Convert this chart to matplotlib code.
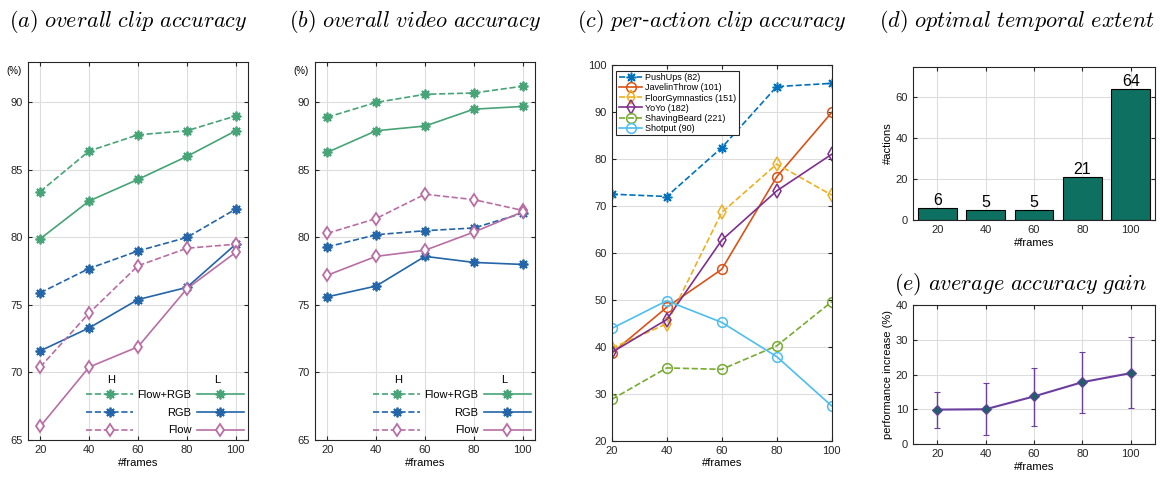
import numpy as np
import matplotlib
matplotlib.use('Agg')
import matplotlib.pyplot as plt

plt.rcParams['font.family'] = ['Liberation Sans', 'DejaVu Sans']
plt.rcParams['mathtext.fontset'] = 'cm'

frames = [20, 40, 60, 80, 100]

# (a) overall clip accuracy
clip_frgb_h = [83.4, 86.4, 87.6, 87.9, 89.0]
clip_frgb_l = [79.9, 82.7, 84.3, 86.0, 87.9]
clip_rgb_h = [75.9, 77.7, 79.0, 80.0, 82.1]
clip_rgb_l = [71.6, 73.3, 75.4, 76.3, 79.5]
clip_flow_h = [70.4, 74.4, 77.9, 79.2, 79.5]
clip_flow_l = [66.0, 70.4, 71.9, 76.2, 78.9]

# (b) overall video accuracy
vid_frgb_h = [88.9, 90.0, 90.6, 90.7, 91.2]
vid_frgb_l = [86.3, 87.9, 88.25, 89.5, 89.7]
vid_rgb_h = [79.3, 80.2, 80.5, 80.7, 81.8]
vid_rgb_l = [75.6, 76.4, 78.6, 78.15, 78.0]
vid_flow_h = [80.3, 81.4, 83.2, 82.8, 82.0]
vid_flow_l = [77.2, 78.6, 79.05, 80.4, 81.9]

# (c) per-action clip accuracy
action_names = ['PushUps (82)', 'JavelinThrow (101)', 'FloorGymnastics (151)',
                'YoYo (182)', 'ShavingBeard (221)', 'Shotput (90)']
pushups = [72.5, 72.0, 82.4, 95.4, 96.1]
javelin = [38.6, 48.4, 56.5, 76.2, 89.9]
floorgym = [39.7, 44.9, 68.6, 78.9, 72.3]
yoyo = [38.8, 45.8, 62.7, 73.2, 81.0]
shaving = [28.8, 35.5, 35.2, 40.2, 49.6]
shotput = [43.9, 49.8, 45.2, 37.9, 27.4]

# (d) optimal temporal extent
n_actions = [6, 5, 5, 21, 64]

# (e) average accuracy gain
gain_mean = [9.9, 10.0, 13.7, 17.8, 20.4]
gain_low = [4.7, 2.7, 5.3, 9.0, 10.3]
gain_high = [14.9, 17.5, 21.9, 26.4, 30.7]

GREEN = '#46a476'
BLUE = '#2365a8'
PINK = '#b86ea4'
AST = (8, 2, 0)
TICK_FS = 8


def style_axes(ax):
    ax.grid(True, color='#dddddd', linewidth=0.8)
    ax.set_axisbelow(True)
    ax.tick_params(direction='in', top=True, right=True, labelsize=TICK_FS,
                   colors='#262626', length=3)
    for s in ax.spines.values():
        s.set_color('#262626')
        s.set_linewidth(0.8)


def accuracy_panel(ax, series):
    dashed, solid = [], []
    for h, l, color, marker, mfc, ms in series:
        lh, = ax.plot(frames, h, '--', color=color, marker=marker, ms=ms, mew=1.3,
                      mfc=mfc, lw=1.2)
        ll, = ax.plot(frames, l, '-', color=color, marker=marker, ms=ms, mew=1.3,
                      mfc=mfc, lw=1.2)
        dashed.append(lh)
        solid.append(ll)
    ax.set_xlim(15, 105)
    ax.set_ylim(65, 93)
    ax.set_xticks(frames)
    ax.set_yticks([65, 70, 75, 80, 85, 90])
    ax.set_xlabel('#frames', fontsize=TICK_FS, labelpad=2)
    style_axes(ax)
    ax.text(-0.03, 0.975, '(%)', transform=ax.transAxes, ha='right', va='center',
            fontsize=7)
    leg_kw = dict(frameon=False, fontsize=TICK_FS, handlelength=4.2,
                  borderpad=0, borderaxespad=0, labelspacing=0.68)
    leg1 = ax.legend(dashed, ['', '', ''], loc='lower left',
                     bbox_to_anchor=(0.265, 0.012), handletextpad=0, **leg_kw)
    ax.add_artist(leg1)
    ax.legend(solid, ['Flow+RGB', 'RGB', 'Flow'], loc='lower right',
              markerfirst=False, bbox_to_anchor=(0.98, 0.012),
              handletextpad=0.5, **leg_kw)
    ax.text(0.38, 0.16, 'H', transform=ax.transAxes, ha='center', va='center',
            fontsize=TICK_FS)
    ax.text(0.86, 0.16, 'L', transform=ax.transAxes, ha='center', va='center',
            fontsize=TICK_FS)


fig = plt.figure(figsize=(11.61, 4.78), dpi=100)

ax_a = fig.add_axes([0.0241, 0.0795, 0.1895, 0.791])
accuracy_panel(ax_a, [(clip_frgb_h, clip_frgb_l, GREEN, AST, GREEN, 7),
                      (clip_rgb_h, clip_rgb_l, BLUE, AST, BLUE, 7),
                      (clip_flow_h, clip_flow_l, PINK, 'd', 'white', 6)])

ax_b = fig.add_axes([0.2713, 0.0795, 0.1895, 0.791])
accuracy_panel(ax_b, [(vid_frgb_h, vid_frgb_l, GREEN, AST, GREEN, 7),
                      (vid_rgb_h, vid_rgb_l, BLUE, AST, BLUE, 7),
                      (vid_flow_h, vid_flow_l, PINK, 'd', 'white', 6)])

# (c)
ax_c = fig.add_axes([0.5269, 0.078, 0.1895, 0.786])
action_series = [
    (pushups, '#0072BD', '--', AST),
    (javelin, '#D95319', '-', 'o'),
    (floorgym, '#EDB120', '--', 'd'),
    (yoyo, '#7E2F8E', '-', 'd'),
    (shaving, '#77AC30', '--', 'o'),
    (shotput, '#4DBEEE', '-', 'o'),
]
for vals, color, ls, marker in action_series:
    ax_c.plot(frames, vals, ls, color=color, marker=marker, ms=7, mew=1.1,
              mfc='none', lw=1.2)
ax_c.set_xlim(20, 100)
ax_c.set_ylim(20, 100)
ax_c.set_xticks(frames)
ax_c.set_yticks(range(20, 101, 10))
ax_c.set_xlabel('#frames', fontsize=TICK_FS, labelpad=2)
style_axes(ax_c)
leg = ax_c.legend(action_names, loc='upper left', fontsize=6.5, handlelength=2.6,
                  labelspacing=0.12, borderpad=0.3, handletextpad=0.3,
                  fancybox=False, edgecolor='#262626', framealpha=1,
                  bbox_to_anchor=(0.02, 0.985), borderaxespad=0)
leg.get_frame().set_linewidth(0.8)

# (d)
ax_d = fig.add_axes([0.7864, 0.5397, 0.2084, 0.3207])
bars = ax_d.bar(frames, n_actions, width=16, color='#0e7060', edgecolor='black',
                linewidth=0.8)
ax_d.bar_label(bars, fontsize=11.5, padding=0)
ax_d.set_xlim(10, 110)
ax_d.set_ylim(0, 75)
ax_d.set_xticks(frames)
ax_d.set_yticks([0, 20, 40, 60])
ax_d.set_xlabel('#frames', fontsize=TICK_FS, labelpad=2)
ax_d.set_ylabel('#actions', fontsize=TICK_FS, labelpad=2)
style_axes(ax_d)

# (e)
ax_e = fig.add_axes([0.7864, 0.0711, 0.2084, 0.2908])
yerr = [np.array(gain_mean) - np.array(gain_low),
        np.array(gain_high) - np.array(gain_mean)]
ax_e.errorbar(frames, gain_mean, yerr=yerr, color='#6a3fa0', lw=1.5,
              elinewidth=1.0, capsize=2, marker='D', ms=5.5, mfc='#1f5f6a',
              mec='#6a3fa0', mew=0.8)
ax_e.set_xlim(10, 110)
ax_e.set_ylim(0, 40)
ax_e.set_xticks(frames)
ax_e.set_yticks([0, 10, 20, 30, 40])
ax_e.set_xlabel('#frames', fontsize=TICK_FS, labelpad=2)
ax_e.set_ylabel('performance increase (%)', fontsize=TICK_FS, labelpad=2)
style_axes(ax_e)

title_kw = dict(fontsize=16, va='center', ha='left')
fig.text(0.008, 0.955, r'$\mathit{(a)\ overall\ clip\ accuracy}$', **title_kw)
fig.text(0.249, 0.955, r'$\mathit{(b)\ overall\ video\ accuracy}$', **title_kw)
fig.text(0.497, 0.955, r'$\mathit{(c)\ per}$-$\mathit{action\ clip\ accuracy}$', **title_kw)
fig.text(0.757, 0.955, r'$\mathit{(d)\ optimal\ temporal\ extent}$', **title_kw)
fig.text(0.770, 0.405, r'$\mathit{(e)\ average\ accuracy\ gain}$', **title_kw)

fig.savefig('out.png', dpi=100)
